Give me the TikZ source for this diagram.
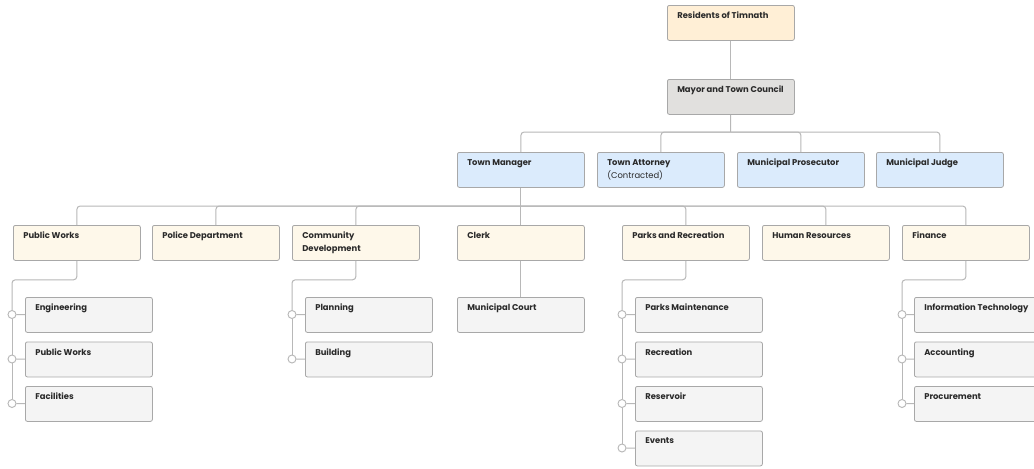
\documentclass[tikz,border=0pt]{standalone}
\usepackage{fontspec}
\setmainfont{Poppins}
\usetikzlibrary{positioning}

\definecolor{linegray}{HTML}{B8B8B8}
\definecolor{boxgray}{HTML}{A8A8A8}
\definecolor{ink}{HTML}{2A2A2A}
\definecolor{peach}{HTML}{FFEFD6}
\definecolor{council}{HTML}{E1E0DE}
\definecolor{sky}{HTML}{DBEBFC}
\definecolor{cream}{HTML}{FEF8EA}
\definecolor{pale}{HTML}{F4F4F4}

\tikzset{
  link/.style={draw=linegray, line width=0.75pt, rounded corners=2.5pt},
  card/.style={draw=boxgray, line width=0.6pt, rounded corners=1.5pt, anchor=north west,
    minimum width=95.25pt, minimum height=26.25pt, inner sep=0pt,
    label={[cardtext]north west:#1}},
  cardtext/.style={anchor=north west, inner sep=0pt, xshift=7.5pt, yshift=-5.2pt,
    align=left, font=\fontsize{6.3}{9.75}\selectfont\bfseries, text=ink},
  dot/.style={circle, draw=linegray, fill=white, line width=0.7pt, minimum size=6pt, inner sep=0pt},
}

\begin{document}
\begin{tikzpicture}[x=0.75pt, y=-0.75pt]
  \useasboundingbox (0,0) rectangle (1034,468);
  \clip (0,0) rectangle (1034,468);
  \fill[white] (0,0) rectangle (1034,468);

  % top
  \node[card=Residents of Timnath, fill=peach] (res) at (667,5) {};
  \node[card=Mayor and Town Council, fill=council] (mayor) at (667,79) {};
  \draw[link] (res) -- (mayor);

  % appointed by council
  \node[card=Town Manager, fill=sky] (tm) at (457,152) {};
  \node[card={Town Attorney\\{\mdseries(Contracted)}}, fill=sky] (att) at (597,152) {};
  \node[card=Municipal Prosecutor, fill=sky] (pros) at (737,152) {};
  \node[card=Municipal Judge, fill=sky] (judge) at (876,152) {};
  \coordinate (bus1) at (730.5,132);
  \draw[link] (mayor) -- (bus1);
  \draw[link] (bus1) -| (tm.north);
  \draw[link] (bus1) -| (att.north);
  \draw[link] (bus1) -| (pros.north);
  \draw[link] (bus1) -| (judge.north);

  % departments
  \node[card=Public Works, fill=cream] (pw) at (13,225) {};
  \node[card=Police Department, fill=cream] (police) at (152,225) {};
  \node[card={Community\\Development}, fill=cream] (cd) at (292,225) {};
  \node[card=Clerk, fill=cream] (clerk) at (457,225) {};
  \node[card=Parks and Recreation, fill=cream] (parks) at (622,225) {};
  \node[card=Human Resources, fill=cream] (hr) at (762,225) {};
  \node[card=Finance, fill=cream] (fin) at (902,225) {};
  \coordinate (bus2) at (520.5,206);
  \draw[link] (tm) -- (clerk);
  \draw[link] (bus2) -| (pw.north);
  \draw[link] (bus2) -| (police.north);
  \draw[link] (bus2) -| (cd.north);
  \draw[link] (bus2) -| (parks.north);
  \draw[link] (bus2) -| (hr.north);
  \draw[link] (bus2) -| (fin.north);

  % public works
  \node[card=Engineering, fill=pale] (eng) at (25,297) {};
  \node[card=Public Works, fill=pale] (pwops) at (25,341.5) {};
  \node[card=Facilities, fill=pale] (fac) at (25,386) {};
  \node[dot] (d-eng) at (12,314.5) {};
  \node[dot] (d-pwops) at (12,359) {};
  \node[dot] (d-fac) at (12,403.5) {};
  \draw[link] (pw.south) -- ++(0,19) -| (d-eng);
  \draw[link] (d-eng) -- (d-pwops);
  \draw[link] (d-pwops) -- (d-fac);
  \draw[link] (d-eng) -- (eng);
  \draw[link] (d-pwops) -- (pwops);
  \draw[link] (d-fac) -- (fac);

  % community development
  \node[card=Planning, fill=pale] (plan) at (305,297) {};
  \node[card=Building, fill=pale] (build) at (305,341.5) {};
  \node[dot] (d-plan) at (292,314.5) {};
  \node[dot] (d-build) at (292,359) {};
  \draw[link] (cd.south) -- ++(0,19) -| (d-plan);
  \draw[link] (d-plan) -- (d-build);
  \draw[link] (d-plan) -- (plan);
  \draw[link] (d-build) -- (build);

  % clerk
  \node[card=Municipal Court, fill=pale] (court) at (457,297) {};
  \draw[link] (clerk) -- (court);

  % parks and recreation
  \node[card=Parks Maintenance, fill=pale] (maint) at (635,297) {};
  \node[card=Recreation, fill=pale] (rec) at (635,341.5) {};
  \node[card=Reservoir, fill=pale] (resv) at (635,386) {};
  \node[card=Events, fill=pale] (events) at (635,430.5) {};
  \node[dot] (d-maint) at (622,314.5) {};
  \node[dot] (d-rec) at (622,359) {};
  \node[dot] (d-resv) at (622,403.5) {};
  \node[dot] (d-events) at (622,448) {};
  \draw[link] (parks.south) -- ++(0,19) -| (d-maint);
  \draw[link] (d-maint) -- (d-rec);
  \draw[link] (d-rec) -- (d-resv);
  \draw[link] (d-resv) -- (d-events);
  \draw[link] (d-maint) -- (maint);
  \draw[link] (d-rec) -- (rec);
  \draw[link] (d-resv) -- (resv);
  \draw[link] (d-events) -- (events);

  % finance
  \node[card=Information Technology, fill=pale] (it) at (914,297) {};
  \node[card=Accounting, fill=pale] (acct) at (914,341.5) {};
  \node[card=Procurement, fill=pale] (proc) at (914,386) {};
  \node[dot] (d-it) at (902,314.5) {};
  \node[dot] (d-acct) at (902,359) {};
  \node[dot] (d-proc) at (902,403.5) {};
  \draw[link] (fin.south) -- ++(0,19) -| (d-it);
  \draw[link] (d-it) -- (d-acct);
  \draw[link] (d-acct) -- (d-proc);
  \draw[link] (d-it) -- (it);
  \draw[link] (d-acct) -- (acct);
  \draw[link] (d-proc) -- (proc);
\end{tikzpicture}
\end{document}
